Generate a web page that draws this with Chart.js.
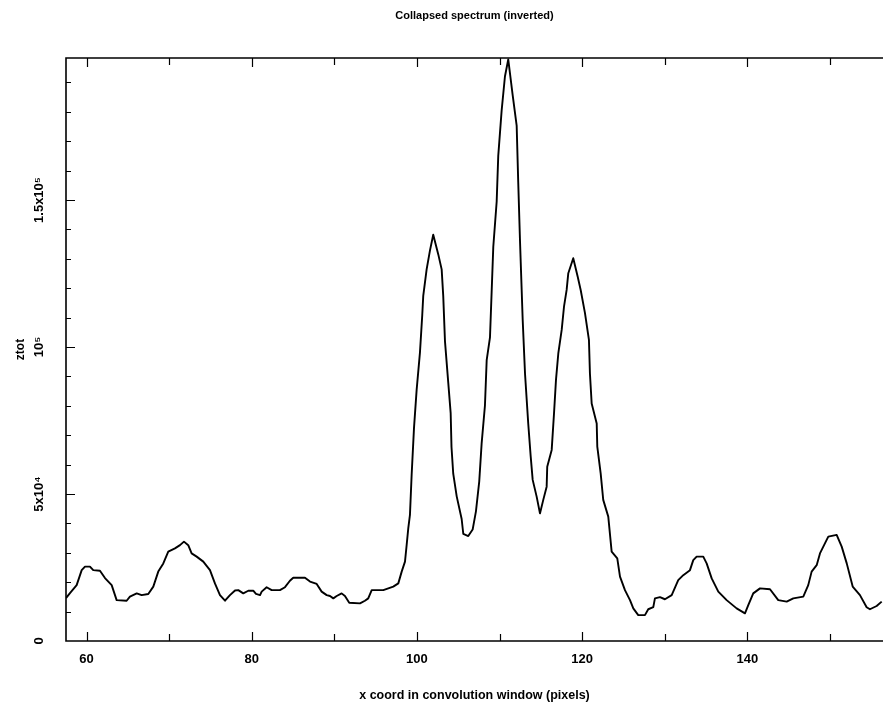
<!DOCTYPE html>
<html>
<head>
<meta charset="utf-8">
<script src="https://cdn.jsdelivr.net/npm/chart.js@4.4.1/dist/chart.umd.min.js"></script>
<style>
  html, body { margin: 0; padding: 0; background: #fff; overflow: hidden; }
  canvas { display: block; }
</style>
</head>
<body>
<canvas id="spectrum" width="883" height="710"></canvas>
<script>
// x coordinate in the convolution window (pixels)
const xCoord = [
  57.51, 57.99, 58.80, 59.41, 59.81, 60.41, 60.81, 61.62, 62.23, 63.04,
  63.64, 64.85, 65.25, 66.07, 66.67, 67.47, 68.08, 68.68, 69.29, 69.89,
  70.70, 71.31, 71.79, 72.31, 72.72, 73.33, 74.13, 74.94, 75.54, 76.15,
  76.76, 77.36, 77.97, 78.37, 78.97, 79.58, 80.18, 80.51, 81.00, 81.20,
  81.80, 82.41, 83.41, 84.02, 84.62, 85.02, 86.44, 87.05, 87.86, 88.46,
  89.07, 89.47, 89.87, 90.28, 90.88, 91.28, 91.80, 93.10, 93.70, 94.10,
  94.52, 95.92, 96.53, 97.13, 97.74, 98.15, 98.55, 98.75, 98.95, 99.15,
  99.36, 99.64, 99.96, 100.36, 100.64, 100.76, 101.17, 101.57, 101.97, 102.58,
  102.99, 103.18, 103.39, 103.79, 104.08, 104.18, 104.39, 104.81, 105.41, 105.61,
  106.21, 106.74, 107.14, 107.54, 107.83, 108.23, 108.44, 108.84, 109.04, 109.24,
  109.65, 109.84, 110.25, 110.65, 111.05, 111.59, 112.07, 112.26, 112.47, 112.80,
  113.08, 113.47, 113.77, 114.01, 114.49, 114.89, 115.29, 115.70, 115.77, 116.31,
  116.59, 116.83, 117.11, 117.52, 117.80, 118.12, 118.32, 118.92, 119.46, 119.82,
  120.34, 120.82, 120.94, 121.15, 121.76, 121.83, 122.24, 122.55, 123.16, 123.57,
  124.25, 124.58, 125.18, 125.79, 126.19, 126.79, 127.60, 128.00, 128.61, 128.81,
  129.42, 130.02, 130.84, 131.63, 132.24, 133.05, 133.45, 133.86, 134.66, 135.07,
  135.68, 136.48, 137.49, 138.70, 139.71, 140.11, 140.71, 141.53, 142.74, 143.74,
  144.76, 145.56, 146.77, 147.37, 147.78, 148.39, 148.79, 149.60, 149.80, 150.81,
  151.42, 152.03, 152.75, 153.63, 154.44, 154.84, 155.65, 156.26
];

// collapsed (inverted) spectrum, ztot
const ztot = [
  14600, 16300, 19000, 24100, 25300, 25300, 24100, 23900, 21400, 19000,
  13900, 13700, 15100, 16200, 15600, 16000, 18500, 23600, 26400, 30400,
  31500, 32600, 33800, 32600, 29800, 28700, 27000, 24100, 19600, 15600,
  13700, 15600, 17200, 17300, 16200, 17100, 17100, 16000, 15600, 16800,
  18300, 17300, 17300, 18300, 20500, 21500, 21500, 20200, 19400, 16800,
  15600, 15300, 14500, 15300, 16200, 15300, 13000, 12800, 13700, 14500,
  17300, 17300, 17900, 18500, 19600, 23600, 27000, 32600, 38400, 42900,
  56800, 72400, 85400, 98100, 110900, 117400, 126400, 132800, 138200, 131500,
  126400, 117400, 102000, 87800, 77500, 66000, 56900, 49200, 41500, 36400,
  35700, 37900, 44100, 54300, 67200, 80100, 95500, 103300, 118700, 134100,
  149500, 165000, 180400, 192000, 197800, 185600, 175300, 156000, 136400, 109200,
  91000, 74000, 62700, 54800, 49100, 43400, 48000, 52500, 59300, 65000,
  77400, 88800, 97800, 105800, 113700, 119400, 125100, 130200, 123900, 119400,
  111500, 102400, 91000, 80800, 74000, 66100, 57000, 48000, 42300, 30400,
  28100, 21900, 17300, 13900, 11100, 8800, 8800, 10800, 11500, 14500,
  14900, 14200, 15600, 20700, 22400, 24100, 27500, 28700, 28700, 26400,
  21300, 16800, 13900, 11100, 9400, 12200, 16200, 17900, 17600, 13900,
  13400, 14500, 15100, 19000, 23600, 25800, 29800, 34400, 35500, 36100,
  32100, 26400, 18500, 15600, 11500, 10800, 11900, 13400
];

// axis limits and labelled ticks
const xRange = [57.51, 156.42];
const yRange = [0, 198300];
const xTickValues = [60, 80, 100, 120, 140];
const yTickValues = [0, 50000, 100000, 150000];
const yTickLabels = ['0', '5x10\u2074', '10\u2075', '1.5x10\u2075'];

const FONT = 'Liberation Sans';

// Frame (left, top, bottom) with inward-pointing tick marks
const frameTicks = {
  id: 'frameTicks',
  afterDatasetsDraw(chart) {
    const { ctx, chartArea: a, scales: { x, y } } = chart;
    ctx.save();
    ctx.strokeStyle = '#000';
    ctx.lineWidth = 1.6;
    ctx.beginPath();
    ctx.moveTo(a.right + 2, a.top);
    ctx.lineTo(a.left, a.top);
    ctx.lineTo(a.left, a.bottom);
    ctx.lineTo(a.right + 2, a.bottom);
    ctx.stroke();

    ctx.lineWidth = 1.2;
    ctx.beginPath();
    for (let v = 60; v <= x.max; v += 10) {
      const px = Math.round(x.getPixelForValue(v)) + 0.5;
      const len = (v % 20 === 0) ? 9 : 7;
      ctx.moveTo(px, a.bottom); ctx.lineTo(px, a.bottom - len);
      ctx.moveTo(px, a.top); ctx.lineTo(px, a.top + len);
    }
    for (let v = 10000; v <= y.max; v += 10000) {
      const py = Math.round(y.getPixelForValue(v)) + 0.5;
      const len = (v % 50000 === 0) ? 9 : 5;
      ctx.moveTo(a.left, py); ctx.lineTo(a.left + len, py);
    }
    ctx.stroke();
    ctx.restore();
  }
};

const points = xCoord.map((xv, i) => ({ x: xv, y: ztot[i] }));

new Chart(document.getElementById('spectrum'), {
  type: 'line',
  data: {
    datasets: [{
      data: points,
      borderColor: '#000',
      borderWidth: 1.9,
      pointRadius: 0,
      tension: 0,
      fill: false,
      borderJoinStyle: 'round'
    }]
  },
  options: {
    responsive: false,
    animation: false,
    devicePixelRatio: 1,
    layout: { padding: 0 },
    plugins: {
      legend: { display: false },
      tooltip: { enabled: false },
      title: {
        display: true,
        text: 'Collapsed spectrum (inverted)',
        fullSize: false,
        color: '#000',
        font: { family: FONT, size: 11, weight: 'bold' },
        padding: { top: 9, bottom: 35.8 }
      }
    },
    scales: {
      x: {
        type: 'linear',
        min: xRange[0],
        max: xRange[1],
        grid: { display: false, drawTicks: false },
        border: { display: false },
        afterBuildTicks(scale) {
          scale.ticks = xTickValues.map(v => ({ value: v }));
        },
        afterFit(scale) { scale.height = 69; },
        ticks: {
          color: '#000',
          font: { family: FONT, size: 13, weight: 'bold' },
          padding: 11,
          maxRotation: 0,
          autoSkip: false,
          callback: v => String(v)
        },
        title: {
          display: true,
          text: 'x coord in convolution window (pixels)',
          color: '#000',
          font: { family: FONT, size: 12.5, weight: 'bold' },
          padding: { top: 0, bottom: 7 }
        }
      },
      y: {
        type: 'linear',
        min: yRange[0],
        max: yRange[1],
        grid: { display: false, drawTicks: false },
        border: { display: false },
        afterBuildTicks(scale) {
          scale.ticks = yTickValues.map(v => ({ value: v }));
        },
        afterFit(scale) { scale.width = 66; },
        ticks: {
          color: '#000',
          font: { family: FONT, size: 13, weight: 'bold' },
          minRotation: 90,
          maxRotation: 90,
          crossAlign: 'center',
          padding: 4,
          autoSkip: false,
          callback: (v) => {
            const i = yTickValues.indexOf(v);
            return i >= 0 ? yTickLabels[i] : '';
          }
        },
        title: {
          display: true,
          text: 'ztot',
          color: '#000',
          font: { family: FONT, size: 12, weight: 'bold' },
          padding: { top: 13, bottom: 0 }
        }
      }
    }
  },
  plugins: [frameTicks]
});
</script>
</body>
</html>
